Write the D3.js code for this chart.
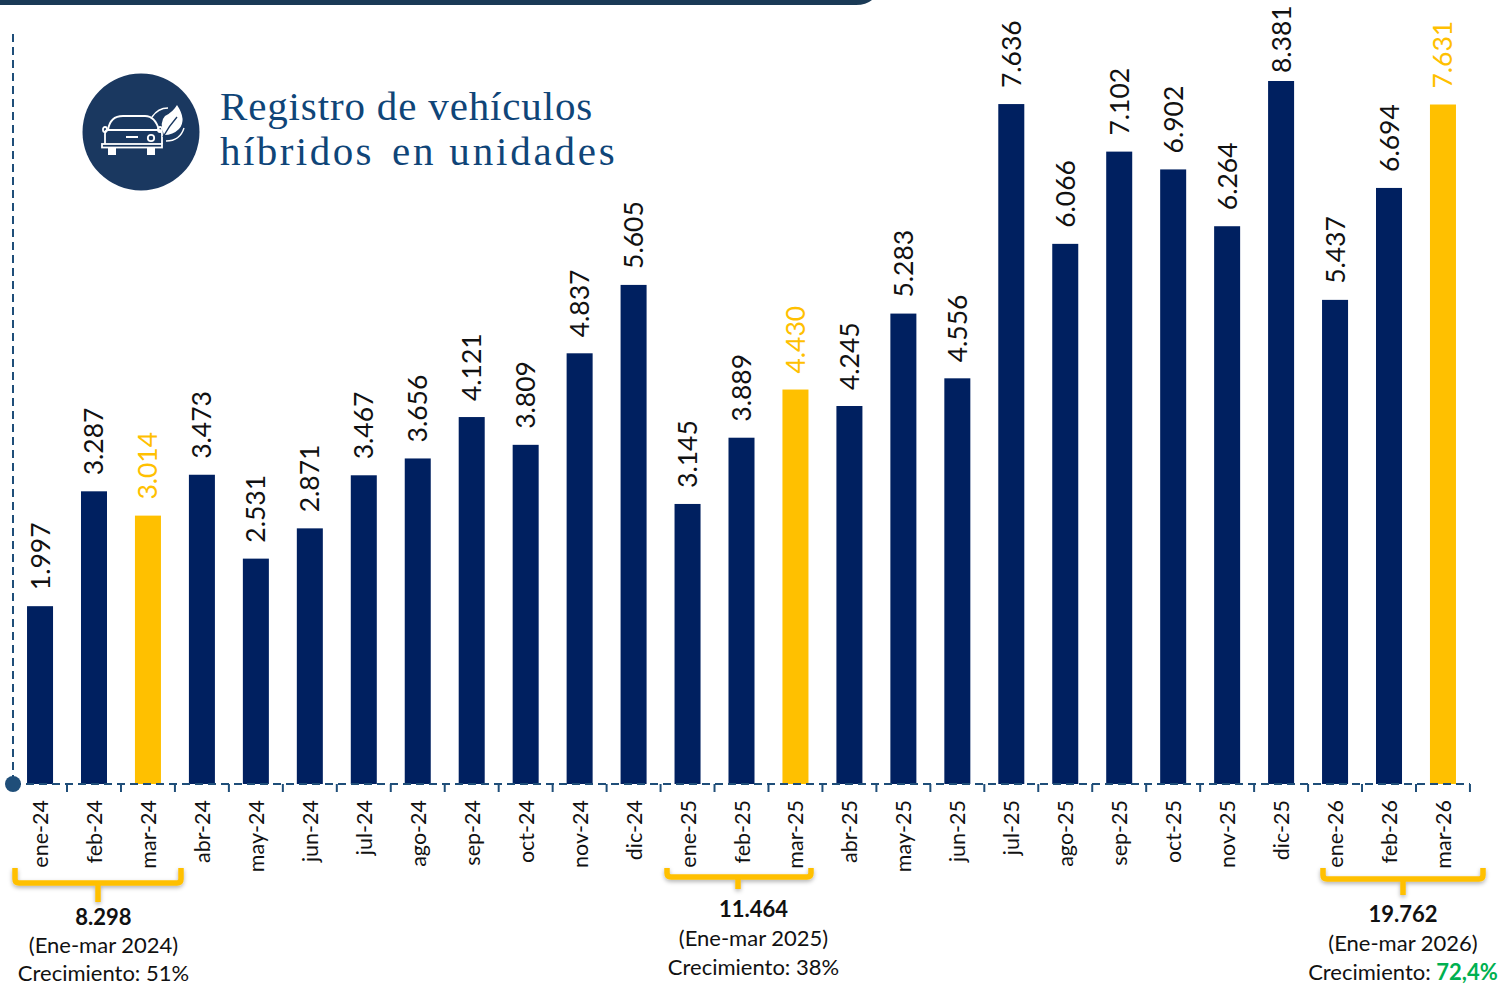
<!DOCTYPE html>
<html>
<head>
<meta charset="utf-8">
<script src="https://cdn.jsdelivr.net/npm/d3@7/dist/d3.min.js"></script>
<style>
    html, body { margin: 0; padding: 0; background: #fff; overflow: hidden; }
    svg { display: block; }
    text { font-family: Lato, sans-serif; fill: #111; }
</style>
</head>
<body>
<script>
const W = 1501, H = 985;

const months = ['ene-24', 'feb-24', 'mar-24', 'abr-24', 'may-24', 'jun-24', 'jul-24', 'ago-24', 'sep-24', 'oct-24', 'nov-24', 'dic-24',
    'ene-25', 'feb-25', 'mar-25', 'abr-25', 'may-25', 'jun-25', 'jul-25', 'ago-25', 'sep-25', 'oct-25', 'nov-25', 'dic-25',
    'ene-26', 'feb-26', 'mar-26'];
const units = [1997, 3287, 3014, 3473, 2531, 2871, 3467, 3656, 4121, 3809, 4837, 5605,
    3145, 3889, 4430, 4245, 5283, 4556, 7636, 6066, 7102, 6902, 6264, 8381,
    5437, 6694, 7631];
const highlighted = ['mar-24', 'mar-25', 'mar-26'];
const groupTotals = ['8.298', '11.464', '19.762'];
const groupPeriods = ['(Ene-mar 2024)', '(Ene-mar 2025)', '(Ene-mar 2026)'];
const groupGrowth = ['51%', '38%', '72,4%'];

const baseY = 784;
const numberFormat = v => d3.format(',')(v).replace(',', '.');

const xScale = d3.scaleBand()
    .domain(months)
    .range([13, 1470])
    .paddingInner(0.518)
    .paddingOuter(0.26);
// the tallest bar is cut short in the original, so the scale is clamped
const yScale = d3.scaleLinear()
    .domain([0, 7895])
    .range([baseY, 81])
    .clamp(true);
const labelGap = d => d === 'dic-25' ? 8 : 16;

const svg = d3.select('body').append('svg')
    .attr('width', W)
    .attr('height', H)
    .attr('viewBox', '0 0 ' + W + ' ' + H);

const defs = svg.append('defs');
defs.append('filter')
    .attr('id', 'soft')
    .attr('x', '-5%').attr('y', '-30%').attr('width', '110%').attr('height', '170%')
    .append('feDropShadow')
    .attr('dx', 0).attr('dy', 2).attr('stdDeviation', 2)
    .attr('flood-color', '#000').attr('flood-opacity', 0.3);

// top strip
svg.append('path')
    .attr('d', 'M0,0H872Q866,5 856,5H0Z')
    .attr('fill', '#1a3a56');

// bars
svg.selectAll('.bar')
    .data(months)
    .enter()
    .append('rect')
    .attr('class', 'bar')
    .attr('x', d => xScale(d))
    .attr('y', (d, i) => yScale(units[i]))
    .attr('width', xScale.bandwidth())
    .attr('height', (d, i) => baseY - yScale(units[i]))
    .attr('fill', d => highlighted.includes(d) ? '#ffc000' : '#002060');

// value labels
svg.selectAll('.value')
    .data(months)
    .enter()
    .append('text')
    .attr('class', 'value')
    .attr('transform', (d, i) => 'translate(' + (xScale(d) + xScale.bandwidth() / 2 + 9.5) + ',' + (yScale(units[i]) - labelGap(d)) + ') rotate(-90)')
    .style('font-size', '26.5px')
    .style('fill', d => highlighted.includes(d) ? '#ffc000' : '#111')
    .text((d, i) => numberFormat(units[i]));

// axes lines
const axisColor = '#1f4e79';
svg.append('line')
    .attr('x1', 13).attr('x2', 13).attr('y1', 34).attr('y2', baseY)
    .attr('stroke', axisColor).attr('stroke-width', 2).attr('stroke-dasharray', '8 5');
svg.append('line')
    .attr('x1', 13).attr('x2', 1470).attr('y1', baseY).attr('y2', baseY)
    .attr('stroke', axisColor).attr('stroke-width', 2).attr('stroke-dasharray', '8 5');
svg.append('circle')
    .attr('cx', 13).attr('cy', baseY).attr('r', 8).attr('fill', '#1f4e79');

// ticks between months
const step = xScale.step();
svg.selectAll('.tick-mark')
    .data(months)
    .enter()
    .append('line')
    .attr('class', 'tick-mark')
    .attr('x1', d => xScale(d) + xScale.bandwidth() / 2 + step / 2)
    .attr('x2', d => xScale(d) + xScale.bandwidth() / 2 + step / 2)
    .attr('y1', baseY)
    .attr('y2', baseY + 8)
    .attr('stroke', axisColor)
    .attr('stroke-width', 2);

// month labels, aligned on their top end
svg.selectAll('.month')
    .data(months)
    .enter()
    .append('text')
    .attr('class', 'month')
    .attr('transform', d => 'translate(' + (xScale(d) + xScale.bandwidth() / 2 + 8) + ',800) rotate(-90)')
    .attr('text-anchor', 'end')
    .style('font-size', '21.5px')
    .text(d => d);

// yellow braces and their captions
const braceTop = 868;
const braceBar = [883, 877, 879];
const braceStem = [902, 889, 895];
const braceLeft = [15, 667, 1323];
const braceRight = [181, 811, 1483];
const braceMid = [98, 738, 1403];
const textX = [103.5, 753.5, 1403];
const totalY = [925, 917, 922];
const periodY = [953, 946, 951];
const growthY = [980.5, 975, 980];
const braces = svg.selectAll('.brace')
    .data(groupTotals)
    .enter()
    .append('g')
    .attr('class', 'brace');
braces.append('path')
    .attr('d', (d, i) => {
        const l = braceLeft[i], r = braceRight[i], y = braceBar[i];
        return 'M' + l + ',' + braceTop + 'V' + (y - 4) + 'Q' + l + ',' + y + ' ' + (l + 4) + ',' + y +
            'H' + (r - 4) + 'Q' + r + ',' + y + ' ' + r + ',' + (y - 4) + 'V' + braceTop +
            'M' + braceMid[i] + ',' + y + 'V' + braceStem[i];
    })
    .attr('fill', 'none')
    .attr('stroke', '#ffc000')
    .attr('stroke-width', 5.5)
    .attr('filter', 'url(#soft)');
braces.append('text')
    .attr('x', (d, i) => textX[i])
    .attr('y', (d, i) => totalY[i])
    .attr('text-anchor', 'middle')
    .style('font-size', '22px')
    .style('font-weight', 700)
    .text(d => d);
braces.append('text')
    .attr('x', (d, i) => textX[i])
    .attr('y', (d, i) => periodY[i])
    .attr('text-anchor', 'middle')
    .style('font-size', '22px')
    .text((d, i) => groupPeriods[i]);
const growth = braces.append('text')
    .attr('x', (d, i) => textX[i])
    .attr('y', (d, i) => growthY[i])
    .attr('text-anchor', 'middle')
    .style('font-size', '22px');
growth.append('tspan').text('Crecimiento: ');
growth.append('tspan')
    .style('fill', (d, i) => i === 2 ? '#00b050' : '#111')
    .style('font-weight', (d, i) => i === 2 ? 700 : 400)
    .text((d, i) => groupGrowth[i]);

// title
const title = svg.append('text')
    .style('font-family', '"Liberation Serif", serif')
    .style('font-size', '41px')
    .style('fill', '#0f4578');
title.append('tspan').attr('x', 220).attr('y', 120).style('letter-spacing', '0.85px').text('Registro de vehículos');
title.append('tspan').attr('x', 220).attr('y', 165).style('letter-spacing', '2.45px').text('híbridos');
title.append('tspan').attr('x', 392).attr('y', 165).style('letter-spacing', '2.8px').text('en unidades');

// icon
const icon = svg.append('g').attr('transform', 'translate(141,132)');
icon.append('circle').attr('r', 58.5).attr('fill', '#1a3860');
const car = icon.append('g').attr('fill', 'none').attr('stroke', '#fff').attr('stroke-width', 1.8);
car.append('path').attr('d', 'M-33,-2Q-31,-16 -18,-16H4Q14,-16 18,-2M-33,-2H18M-36,12V2Q-36,-2 -33,-2M21,12V2Q21,-2 18,-2');
car.append('rect').attr('x', -39).attr('y', 12).attr('width', 60).attr('height', 3.5);
car.append('rect').attr('x', -38).attr('y', -5).attr('width', 4).attr('height', 5).attr('rx', 2);
car.append('rect').attr('x', 17).attr('y', -5).attr('width', 4).attr('height', 5).attr('rx', 2);
car.append('circle').attr('cx', 10).attr('cy', 6).attr('r', 3.2);
icon.append('path').attr('d', 'M-33,16h8v7h-8zM6,16h8v7h-8z').attr('fill', '#fff');
icon.append('path').attr('d', 'M-15,5H-3').attr('stroke', '#fff').attr('stroke-width', 2);
icon.append('path').attr('d', 'M23,3Q18,-10 24,-16Q32,-20 36,-27Q46,-12 38,-3Q32,3 23,3Z').attr('fill', '#fff');
car.append('path').attr('d', 'M11,-15Q17,-24 27,-24M43,-4Q39,9 25,9').attr('stroke-width', 1.4);
icon.append('path').attr('d', 'M22,5Q28,-6 36,-15').attr('fill', 'none').attr('stroke', '#1a3860').attr('stroke-width', 1.4);
</script>
</body>
</html>
